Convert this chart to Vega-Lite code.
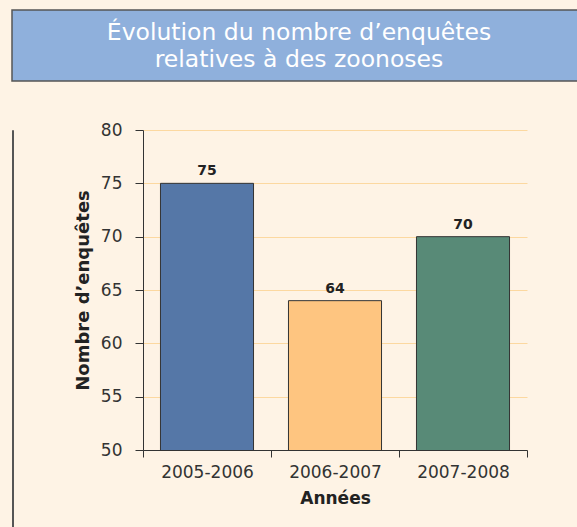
{
  "$schema": "https://vega.github.io/schema/vega-lite/v6.json",
  "background": "#fef3e5",
  "padding": {"left": 9, "top": 9, "right": 0, "bottom": 16},
  "config": {
    "font": "DejaVu Sans",
    "view": {"stroke": null},
    "concat": {"spacing": 0}
  },
  "spacing": 39,
  "vconcat": [
    {
      "width": 568,
      "height": 71,
      "view": {"fill": "#8fb0dc", "stroke": "#555555", "strokeWidth": 1.5},
      "data": {"values": [{"t": "Évolution du nombre d’enquêtes\nrelatives à des zoonoses"}]},
      "mark": {"type": "text", "color": "#ffffff", "fontSize": 23.5, "font": "DejaVu Sans", "lineBreak": "\n", "lineHeight": 27, "baseline": "middle", "align": "center", "dx": 3, "dy": -13},
      "encoding": {"text": {"field": "t", "type": "nominal"}}
    },
    {
      "spacing": 58,
      "hconcat": [
        {
          "width": 1,
          "height": 397,
          "view": {"stroke": "#555555", "strokeWidth": 1},
          "data": {"values": [{}]},
          "mark": {"type": "point", "opacity": 0},
          "encoding": {}
        },
        {
          "width": 384,
          "height": 320,
          "data": {"values": [
            {"annee": "2005-2006", "enquetes": 75},
            {"annee": "2006-2007", "enquetes": 64},
            {"annee": "2007-2008", "enquetes": 70}
          ]},
          "encoding": {
            "x": {
              "field": "annee", "type": "nominal", "sort": null,
              "scale": {"paddingInner": 0, "paddingOuter": 0},
              "axis": {
                "title": "Années", "labelAngle": 0, "tickBand": "extent",
                "domainColor": "#333333", "tickColor": "#333333", "tickSize": 7,
                "labelFontSize": 17, "labelColor": "#333333", "labelPadding": 7,
                "titleFontSize": 17, "titleFontWeight": "bold", "titleColor": "#222222", "titlePadding": 10
              }
            },
            "y": {
              "field": "enquetes", "type": "quantitative",
              "scale": {"domain": [50, 80], "zero": false, "nice": false},
              "axis": {
                "title": "Nombre d’enquêtes", "values": [50, 55, 60, 65, 70, 75, 80],
                "grid": true, "gridColor": "#fcd8a0", "gridWidth": 1,
                "domainColor": "#333333", "tickColor": "#333333", "tickSize": 8,
                "labelFontSize": 17, "labelColor": "#333333", "labelPadding": 13,
                "titleFontSize": 18, "titleFontWeight": "bold", "titleColor": "#222222", "titlePadding": 8
              }
            }
          },
          "layer": [
            {
              "mark": {"type": "bar", "stroke": "#333333", "strokeWidth": 1, "clip": true, "width": {"band": 0.727}},
              "encoding": {
                "color": {
                  "field": "annee", "type": "nominal", "legend": null,
                  "scale": {"domain": ["2005-2006", "2006-2007", "2007-2008"], "range": ["#5577a7", "#fec580", "#588a77"]}
                }
              }
            },
            {
              "mark": {"type": "text", "dy": -8, "baseline": "alphabetic", "fontSize": 14, "fontWeight": "bold", "color": "#222222"},
              "encoding": {"text": {"field": "enquetes", "type": "quantitative"}}
            }
          ]
        }
      ]
    }
  ]
}
